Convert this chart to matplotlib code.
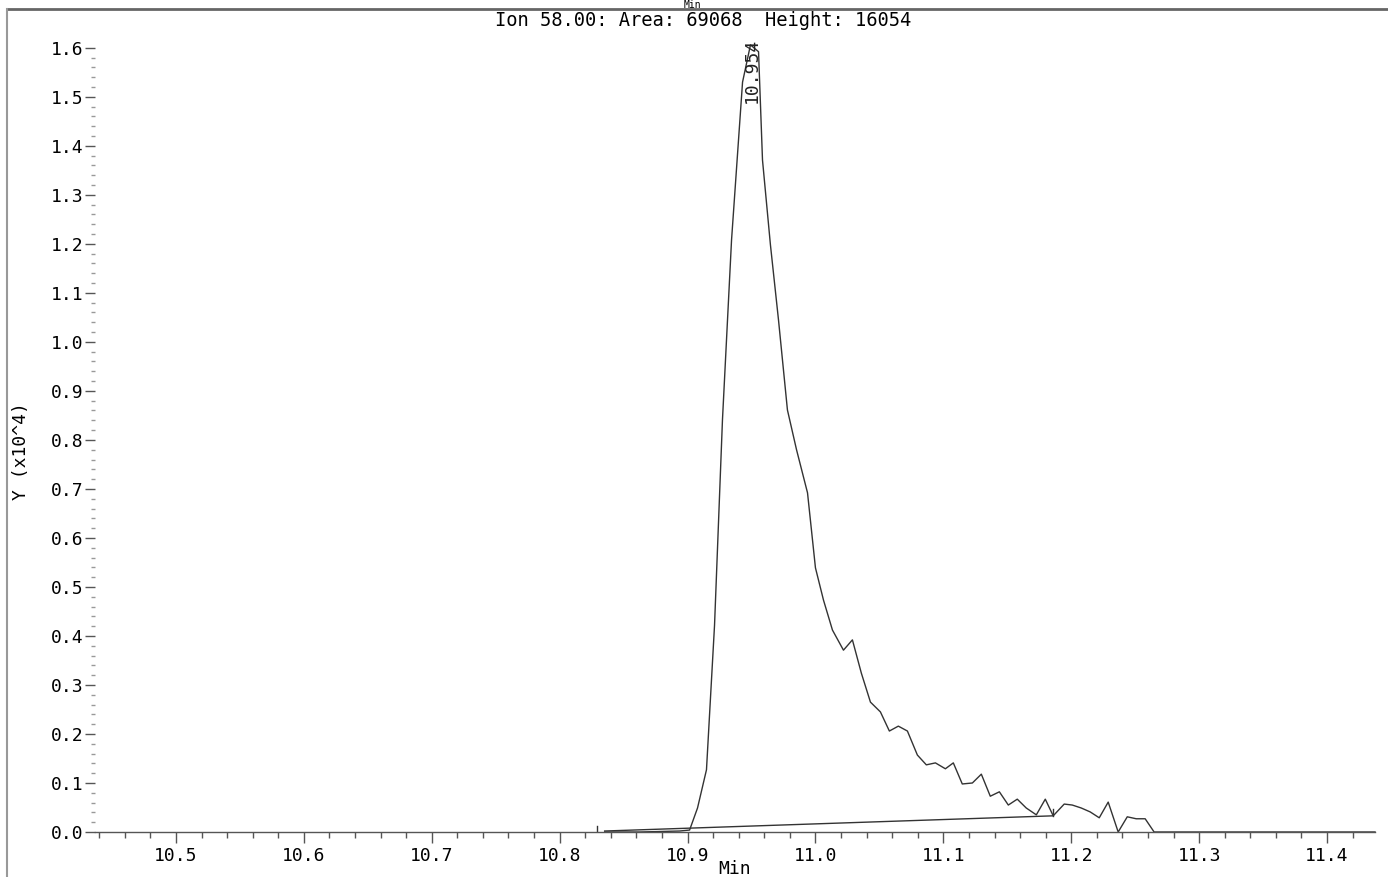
import matplotlib
matplotlib.use("Agg")
import matplotlib.pyplot as plt
from matplotlib.ticker import MultipleLocator, FixedLocator, FormatStrFormatter
from matplotlib.lines import Line2D

# ---- chromatogram data (Y in units of 10^4) ----
times = [10.8352, 10.8625, 10.8938, 10.9016, 10.9078, 10.9148, 10.9211, 10.9273,
         10.9344, 10.9430, 10.9492, 10.9555, 10.9586, 10.9648, 10.9711, 10.9781,
         10.9852, 10.9938, 11.0000, 11.0063, 11.0133, 11.0219, 11.0289, 11.0359,
         11.0430, 11.0508, 11.0578, 11.0648, 11.0719, 11.0797, 11.0867, 11.0938,
         11.1016, 11.1078, 11.1148, 11.1227, 11.1297, 11.1367, 11.1438, 11.1508,
         11.1578, 11.1648, 11.1727, 11.1797, 11.1859, 11.1945, 11.2008, 11.2078,
         11.2148, 11.2219, 11.2289, 11.2367, 11.2438, 11.2508, 11.2578, 11.2648,
         11.4375]
intensity = [0.000, 0.000, 0.002, 0.004, 0.049, 0.127, 0.422, 0.841,
             1.208, 1.530, 1.606, 1.592, 1.371, 1.198, 1.045, 0.861,
             0.780, 0.692, 0.539, 0.473, 0.412, 0.371, 0.392, 0.324,
             0.265, 0.245, 0.206, 0.216, 0.206, 0.157, 0.137, 0.141,
             0.129, 0.141, 0.098, 0.100, 0.118, 0.073, 0.082, 0.055,
             0.067, 0.049, 0.035, 0.067, 0.033, 0.057, 0.055, 0.049,
             0.041, 0.029, 0.061, 0.000, 0.031, 0.027, 0.027, 0.000,
             0.000]

# integration baseline (start, end) and peak markers
base_t = [10.8352, 11.1859]
base_y = [0.002, 0.033]
start_mark_t = 10.829
start_mark_y = [0.0, 0.012]
end_mark_y = [0.033, 0.047]

peak_rt = "10.954"
peak_label_t = 10.9504
title = "Ion 58.00: Area: 69068  Height: 16054"

y_major = [v / 10 for v in range(17)]
y_minor = [v / 50 for v in range(81)]

W, H = 1388, 877
FONT = "DejaVu Sans Mono"
plt.rcParams["font.family"] = FONT

fig = plt.figure(figsize=(W / 100, H / 100), dpi=100)
ax = fig.add_axes([95 / W, 45 / H, (1375 - 95) / W, (832 - 38) / H])

ax.plot(times, intensity, color="#333333", lw=1.0, clip_on=False)
ax.plot(base_t, base_y, color="#333333", lw=1.0)
ax.plot([start_mark_t, start_mark_t], start_mark_y, color="#333333", lw=1.0)
ax.plot([base_t[1], base_t[1]], end_mark_y, color="#333333", lw=1.0)

ax.set_xlim(10.4367, 11.4375)
ax.set_ylim(0, 1.62)

for s in ["top", "right", "left"]:
    ax.spines[s].set_visible(False)
ax.spines["bottom"].set_color("#555555")
ax.spines["bottom"].set_linewidth(1.0)

ax.xaxis.set_major_locator(MultipleLocator(0.1))
ax.xaxis.set_minor_locator(MultipleLocator(0.02))
ax.xaxis.set_major_formatter(FormatStrFormatter("%.1f"))
ax.yaxis.set_major_locator(FixedLocator(y_major))
ax.yaxis.set_minor_locator(FixedLocator(y_minor))
ax.yaxis.set_major_formatter(FormatStrFormatter("%.1f"))

ax.tick_params(axis="x", which="major", length=8, width=1, color="#555555",
               labelsize=13, pad=3)
ax.tick_params(axis="x", which="minor", length=4, width=1, color="#555555")
ax.tick_params(axis="y", which="major", length=7, width=1, color="#555555",
               labelsize=13, pad=1)
ax.tick_params(axis="y", which="minor", length=3, width=1, color="#999999")

ax.set_xlabel("Min", fontsize=13, labelpad=-4)
ax.set_ylabel("Y (x10^4)", fontsize=13, labelpad=10)
ax.yaxis.set_label_coords(-65 / 1280, 0.48)

ax.text(peak_label_t, 1.62, peak_rt, rotation=90, ha="center", va="top",
        fontsize=13, color="#222222")

fig.text(703 / W, 1 - 20 / H, title, ha="center", va="center", fontsize=13.5)
# header of the panel above, squeezed into the strip above the frame line
fig.text(692 / W, 1 - 0.5 / H, "Min", ha="center", va="top", fontsize=7)

# frame lines of the original report page
fig.add_artist(Line2D([7 / W, 1], [1 - 9 / H, 1 - 9 / H], transform=fig.transFigure,
                      color="#666666", lw=2))
fig.add_artist(Line2D([7 / W, 7 / W], [0, 1 - 9 / H], transform=fig.transFigure,
                      color="#999999", lw=1.5))

fig.savefig("out.png", dpi=100)
